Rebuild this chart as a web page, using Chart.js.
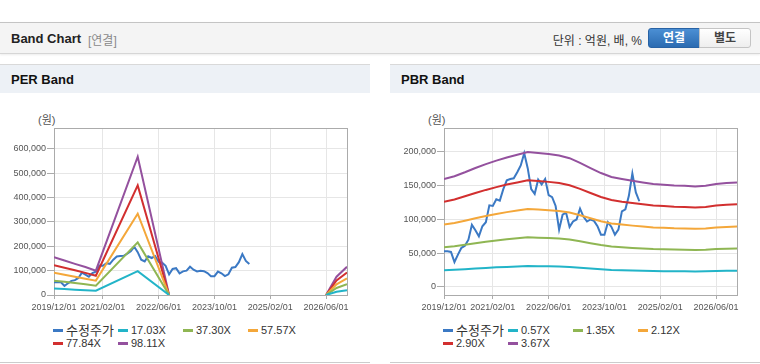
<!DOCTYPE html>
<html lang="ko">
<head>
<meta charset="UTF-8">
<title>Band Chart</title>
<script src="https://cdn.jsdelivr.net/npm/chart.js"></script>
<style>
  body { margin: 0; width: 760px; height: 364px; overflow: hidden; position: relative; background: #fff;
         font-family: "Liberation Sans", Arial, "Noto Sans CJK KR", sans-serif; color: #333; }
  .topbar { position: absolute; left: 0; top: 22px; width: 760px; height: 30px; background: #f4f4f4;
            border-top: 1px solid #c4c4c4; border-bottom: 1px solid #d6d6d6; box-shadow: 0 1px 2px rgba(0,0,0,.08); }
  .topbar .ttl { position: absolute; left: 11px; top: 8px; font-size: 13px; font-weight: bold; color: #222; }
  .topbar .sub { position: absolute; left: 88px; top: 8px; font-size: 12px; color: #8a8a8a; }
  .topbar .unit { position: absolute; right: 118px; top: 8px; font-size: 12px; color: #333; }
  .btn { position: absolute; top: 5px; height: 18px; width: 50px; font-size: 12px; font-weight: bold;
         text-align: center; line-height: 18px; }
  .btn.on { left: 648px; background: linear-gradient(#4b8fd4, #2b6bb1); border: 1px solid #2862a4;
            color: #fff; border-radius: 3px 0 0 3px; }
  .btn.off { left: 699px; background: linear-gradient(#fff, #eeeeee); border: 1px solid #c4c4c4;
             color: #444; border-radius: 0 3px 3px 0; }
  .panel { position: absolute; top: 64px; width: 370px; height: 297px; border-top: 1px solid #d9d9d9;
           border-bottom: 1px solid #cccccc; background: #fff; }
  .panel .head { height: 28px; background: #edf1f6; font-size: 13px; font-weight: bold; color: #111;
                 line-height: 29px; padding-left: 11px; }
  .panel .won { position: absolute; left: 38px; top: 46px; font-size: 11px; color: #555; }
  .panel canvas { position: absolute; left: 0; top: 45px; }
  .legend { position: absolute; left: 0; top: 259px; width: 370px; height: 30px; }
  .legend .item { position: absolute; font-size: 11px; color: #333; white-space: nowrap; line-height: 13px; }
  .legend .mark { display: inline-block; width: 10px; height: 3px; vertical-align: middle; margin-right: 3px; margin-top: -2px; }
</style>
</head>
<body>
<div class="topbar">
  <span class="ttl">Band Chart</span>
  <span class="sub">[연결]</span>
  <span class="unit">단위 : 억원, 배, %</span>
  <span class="btn on">연결</span>
  <span class="btn off">별도</span>
</div>

<div class="panel" style="left:0">
  <div class="head">PER Band</div>
  <div class="won">(원)</div>
  <canvas id="perChart" width="370" height="206"></canvas>
  <div class="legend" id="perLegend"></div>
</div>

<div class="panel" style="left:390px">
  <div class="head">PBR Band</div>
  <div class="won">(원)</div>
  <canvas id="pbrChart" width="370" height="206"></canvas>
  <div class="legend" id="pbrLegend"></div>
</div>

<script>
// x축: 2019/12 부터의 개월 수
const tickMonths = [0, 14, 30, 46, 62, 78];
const tickLabels = ['2019/12/01', '2021/02/01', '2022/06/01', '2023/10/01', '2025/02/01', '2026/06/01'];
const lastMonth = 84;

// 수정주가 (월별, 2019/12 ~ 2024/08)
const price = [52800, 52800, 52000, 37000, 48000, 58000, 61000, 70000, 92000, 84000,
  75000, 90000, 96000, 121000, 120000, 130000, 128000, 145000, 158000, 160000,
  161000, 170000, 180000, 198000, 176000, 145000, 138000, 159000, 152000, 160000,
  136000, 133000, 120000, 85000, 107000, 110000, 89000, 97000, 100000, 116000,
  104000, 97000, 100000, 98000, 90000, 77500, 77500, 96000, 89000, 77500,
  85000, 112000, 115000, 135000, 168000, 140000, 127000];

// PER 밴드
const perLabels = ['17.03X', '37.30X', '57.57X', '77.84X', '98.11X'];
const perMonths = [0, 3, 6, 9, 12, 24, 33, 34, 78, 81, 84];
const per1 = [27000, 24500, 22000, 20000, 17500, 98000, 0, null, 0, 13000, 20000];
const per2 = [59000, 54000, 49000, 44000, 38000, 216000, 0, null, 0, 29000, 44000];
const per3 = [91000, 83000, 75000, 67000, 59000, 334000, 0, null, 0, 44000, 68000];
const per4 = [122000, 112000, 102000, 91000, 79000, 450000, 0, null, 0, 60000, 92000];
const per5 = [155000, 142000, 128000, 115000, 100000, 568000, 0, null, 0, 75000, 116000];
const perTicks = [0, 100000, 200000, 300000, 400000, 500000, 600000];

// PBR 밴드 (분기별)
const pbrLabels = ['0.57X', '1.35X', '2.12X', '2.90X', '3.67X'];
const pbrMonths = [0, 3, 6, 9, 12, 15, 18, 21, 24, 27, 30, 33, 36, 39, 42, 45, 48, 51, 54, 57, 60, 63, 66, 69, 72, 75, 78, 81, 84];
const pbr1 = [24900, 25500, 26400, 27400, 28300, 29100, 29800, 30400, 31100, 30800, 30600, 30300, 29600, 28600, 27400,
  26200, 25300, 24900, 24500, 24100, 23700, 23500, 23400, 23300, 23100, 23300, 23700, 23900, 24100];
const pbr2 = [58900, 60300, 62500, 64800, 67000, 68900, 70600, 72100, 73600, 73000, 72500, 71700, 70200, 67600, 64800,
  62100, 59900, 58900, 57900, 57000, 56200, 55800, 55400, 55200, 54800, 55200, 56200, 56700, 57000];
const pbr3 = [92400, 94800, 98200, 101800, 105200, 108100, 110900, 113200, 115500, 114700, 113800, 112600, 110200, 106200, 101800,
  97500, 94100, 92400, 90900, 89500, 88200, 87600, 86900, 86700, 86100, 86700, 88200, 89000, 89500];
const pbr4 = [126400, 129600, 134300, 139200, 143800, 147900, 151700, 154900, 158100, 156900, 155700, 154000, 150800, 145300, 139200,
  133400, 128800, 126400, 124400, 122400, 120600, 119800, 118900, 118600, 117700, 118600, 120600, 121800, 122400];
const pbr5 = [160000, 164000, 169900, 176200, 182000, 187200, 191900, 196000, 200000, 198500, 197100, 194900, 190800, 183900, 176200,
  168800, 162900, 160000, 157400, 154900, 152700, 151600, 150500, 150100, 149000, 150100, 152700, 154100, 154900];
const pbrTicks = [0, 50000, 100000, 150000, 200000];

const priceColor = '#3b79c4';
const bandColors = ['#22b4c8', '#8fb653', '#f4a73a', '#d22f2f', '#94519e'];

function pts(xs, ys) {
  return ys.map((v, i) => ({ x: xs[i], y: v }));
}

const plotBox = {
  id: 'plotBox',
  beforeDatasetsDraw(chart) {
    const a = chart.chartArea, ctx = chart.ctx;
    ctx.save();
    ctx.strokeStyle = '#ababab';
    ctx.lineWidth = 1;
    ctx.strokeRect(Math.round(a.left) + 0.5, Math.round(a.top) + 0.5,
      Math.round(a.right - a.left), Math.round(a.bottom - a.top));
    ctx.restore();
  }
};

const tickFont = { family: "'Liberation Sans', Arial", size: 9 };

function makeChart(id, legendId, bandMonths, bands, labels, yMin, yMax, yTicks) {
  const datasets = [{
    label: '수정주가', data: pts(price.map((_, i) => i), price),
    borderColor: priceColor, backgroundColor: priceColor, order: 1
  }];
  bands.forEach((b, i) => {
    datasets.push({ label: labels[i], data: pts(bandMonths, b),
      borderColor: bandColors[i], backgroundColor: bandColors[i], order: 0 });
  });
  datasets.forEach(d => { d.borderWidth = 2; d.pointRadius = 0; d.tension = 0; d.spanGaps = false; });

  const chart = new Chart(document.getElementById(id), {
    type: 'line',
    data: { datasets: datasets },
    options: {
      responsive: false,
      animation: false,
      layout: { padding: { top: 18, right: 23, left: 0, bottom: 0 } },
      plugins: { legend: { display: false }, tooltip: { enabled: false } },
      scales: {
        x: {
          type: 'linear', min: 0, max: lastMonth,
          afterBuildTicks: s => { s.ticks = tickMonths.map(v => ({ value: v })); },
          afterFit: s => { s.height = 21; },
          ticks: { autoSkip: false, maxRotation: 0, color: '#555', font: tickFont, padding: 3,
                   callback: v => tickLabels[tickMonths.indexOf(v)] },
          grid: { color: '#e6e6e6', tickColor: '#ababab', tickLength: 4 },
          border: { color: '#ababab' }
        },
        y: {
          min: yMin, max: yMax,
          afterBuildTicks: s => { s.ticks = yTicks.map(v => ({ value: v })); },
          afterFit: s => { s.width = 54; },
          ticks: { color: '#555', font: tickFont, padding: 1,
                   callback: v => v.toLocaleString('en-US') },
          grid: { color: '#e6e6e6', tickColor: '#ababab', tickLength: 7 },
          border: { color: '#ababab' }
        }
      }
    },
    plugins: [plotBox]
  });

  // 범례
  const box = document.getElementById(legendId);
  chart.data.datasets.forEach((d, i) => {
    const item = document.createElement('div');
    item.className = 'item';
    item.style.left = (53 + (i % 4) * 65) + 'px';
    item.style.top = (Math.floor(i / 4) * 13) + 'px';
    if (i === 0) item.style.fontSize = '13px';
    item.innerHTML = '<span class="mark" style="background:' + d.borderColor + '"></span>' + d.label;
    box.appendChild(item);
  });
  return chart;
}

makeChart('perChart', 'perLegend', perMonths, [per1, per2, per3, per4, per5], perLabels, 0, 686000, perTicks);
makeChart('pbrChart', 'pbrLegend', pbrMonths, [pbr1, pbr2, pbr3, pbr4, pbr5], pbrLabels, -11850, 235500, pbrTicks);
</script>
</body>
</html>
